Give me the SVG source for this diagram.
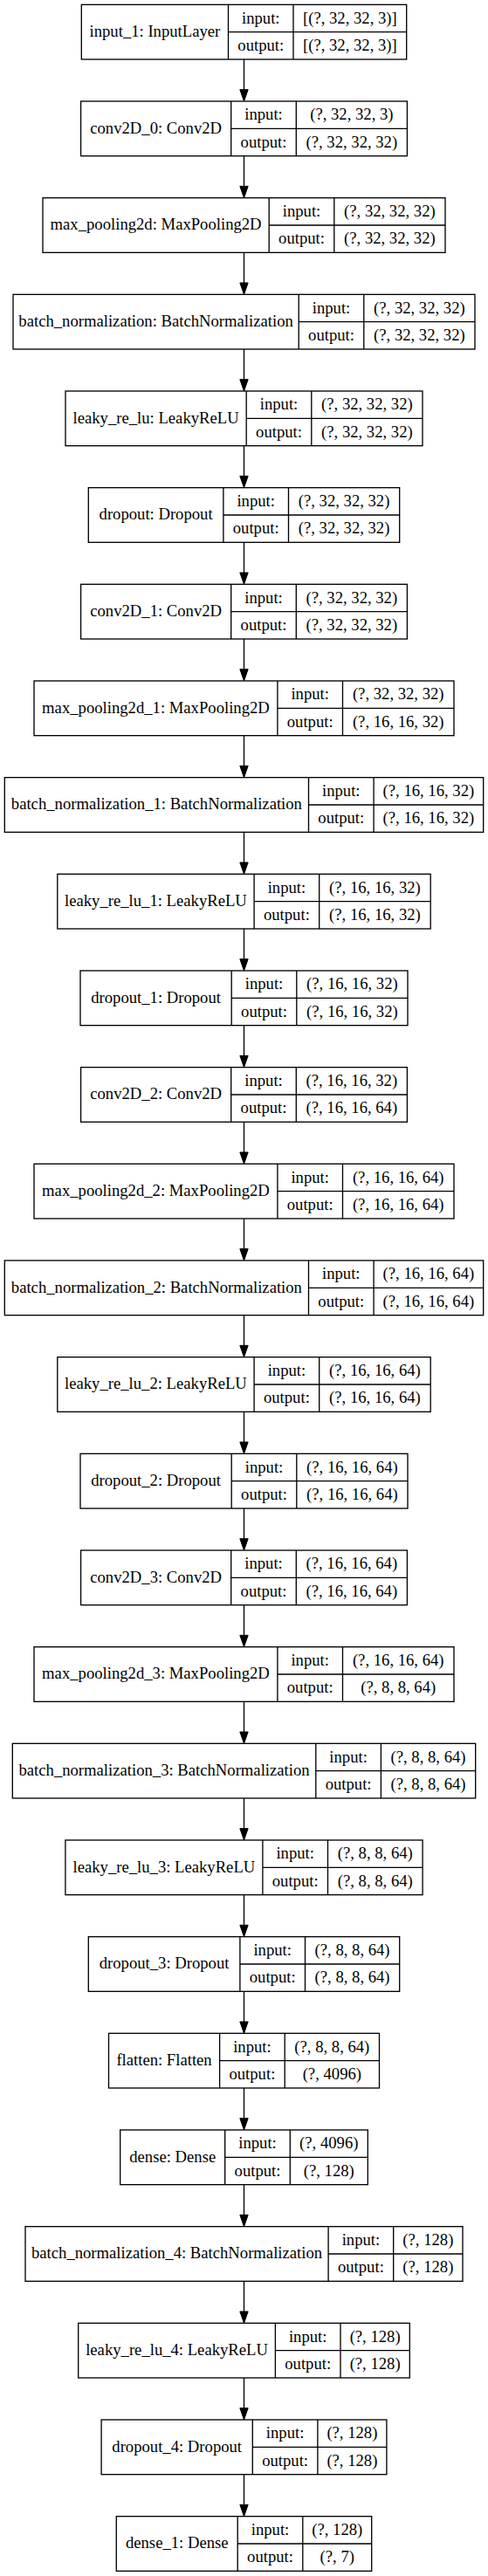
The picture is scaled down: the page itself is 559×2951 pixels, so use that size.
<svg xmlns="http://www.w3.org/2000/svg" width="559" height="2951" viewBox="0 0 559 2951">
<style>
.b{fill:none;stroke:#000;stroke-width:1.33}
.e{fill:none;stroke:#000;stroke-width:1.33}
text{font-family:"Liberation Serif","Times New Roman",serif;font-size:18.67px;fill:#000;text-anchor:middle}
</style>
<defs>
<marker id="ah" markerUnits="userSpaceOnUse" markerWidth="14" markerHeight="10" refX="0" refY="5" orient="auto" overflow="visible">
<path d="M0,0.33 L13.33,5 L0,9.67 Z" fill="#000" stroke="#000" stroke-width="1"/>
</marker>
</defs>
<rect x="0" y="0" width="559" height="2951" fill="#fff"/>
<g id="edges" class="e" marker-end="url(#ah)">
<path d="M279.5,68V102.67"/>
<path d="M279.5,178.67V213.33"/>
<path d="M279.5,289.33V324"/>
<path d="M279.5,400V434.67"/>
<path d="M279.5,510.67V545.33"/>
<path d="M279.5,621.33V656"/>
<path d="M279.5,732V766.67"/>
<path d="M279.5,842.67V877.33"/>
<path d="M279.5,953.33V988"/>
<path d="M279.5,1064V1098.67"/>
<path d="M279.5,1174.67V1209.33"/>
<path d="M279.5,1285.33V1320"/>
<path d="M279.5,1396V1430.67"/>
<path d="M279.5,1506.67V1541.33"/>
<path d="M279.5,1617.33V1652"/>
<path d="M279.5,1728V1762.67"/>
<path d="M279.5,1838.67V1873.33"/>
<path d="M279.5,1949.33V1984"/>
<path d="M279.5,2060V2094.67"/>
<path d="M279.5,2170.67V2205.33"/>
<path d="M279.5,2281.33V2316"/>
<path d="M279.5,2392V2426.67"/>
<path d="M279.5,2502.67V2537.33"/>
<path d="M279.5,2613.33V2648"/>
<path d="M279.5,2724V2758.67"/>
<path d="M279.5,2834.67V2869.33"/>
</g>

<g id="input_1" transform="translate(0,5.33)">
<rect class="b" x="93.3" y="0" width="372.4" height="62.67"/>
<path class="b" d="M261.5,0V62.67M336,0V62.67M261.5,31.33H465.7"/>
<text x="177.4" y="36.8">input_1: InputLayer</text>
<text x="298.75" y="21.2">input:</text><text x="298.75" y="52.5">output:</text>
<text x="400.85" y="21.2">[(?, 32, 32, 3)]</text><text x="400.85" y="52.5">[(?, 32, 32, 3)]</text>
</g>

<g id="conv2D_0" transform="translate(0,116)">
<rect class="b" x="92.6" y="0" width="373.8" height="62.67"/>
<path class="b" d="M264.7,0V62.67M339.3,0V62.67M264.7,31.33H466.4"/>
<text x="178.65" y="36.8">conv2D_0: Conv2D</text>
<text x="302" y="21.2">input:</text><text x="302" y="52.5">output:</text>
<text x="402.85" y="21.2">(?, 32, 32, 3)</text><text x="402.85" y="52.5">(?, 32, 32, 32)</text>
</g>

<g id="max_pooling2d" transform="translate(0,226.67)">
<rect class="b" x="49" y="0" width="461" height="62.67"/>
<path class="b" d="M308.2,0V62.67M382.8,0V62.67M308.2,31.33H510"/>
<text x="178.6" y="36.8">max_pooling2d: MaxPooling2D</text>
<text x="345.5" y="21.2">input:</text><text x="345.5" y="52.5">output:</text>
<text x="446.4" y="21.2">(?, 32, 32, 32)</text><text x="446.4" y="52.5">(?, 32, 32, 32)</text>
</g>

<g id="batch_normalization" transform="translate(0,337.33)">
<rect class="b" x="15" y="0" width="529" height="62.67"/>
<path class="b" d="M342.2,0V62.67M416.8,0V62.67M342.2,31.33H544"/>
<text x="178.6" y="36.8">batch_normalization: BatchNormalization</text>
<text x="379.5" y="21.2">input:</text><text x="379.5" y="52.5">output:</text>
<text x="480.4" y="21.2">(?, 32, 32, 32)</text><text x="480.4" y="52.5">(?, 32, 32, 32)</text>
</g>

<g id="leaky_re_lu" transform="translate(0,448)">
<rect class="b" x="75" y="0" width="409" height="62.67"/>
<path class="b" d="M282.2,0V62.67M356.8,0V62.67M282.2,31.33H484"/>
<text x="178.6" y="36.8">leaky_re_lu: LeakyReLU</text>
<text x="319.5" y="21.2">input:</text><text x="319.5" y="52.5">output:</text>
<text x="420.4" y="21.2">(?, 32, 32, 32)</text><text x="420.4" y="52.5">(?, 32, 32, 32)</text>
</g>

<g id="dropout" transform="translate(0,558.67)">
<rect class="b" x="101.3" y="0" width="356.4" height="62.67"/>
<path class="b" d="M255.9,0V62.67M330.5,0V62.67M255.9,31.33H457.7"/>
<text x="178.6" y="36.8">dropout: Dropout</text>
<text x="293.2" y="21.2">input:</text><text x="293.2" y="52.5">output:</text>
<text x="394.1" y="21.2">(?, 32, 32, 32)</text><text x="394.1" y="52.5">(?, 32, 32, 32)</text>
</g>

<g id="conv2D_1" transform="translate(0,669.33)">
<rect class="b" x="92.6" y="0" width="373.8" height="62.67"/>
<path class="b" d="M264.7,0V62.67M339.3,0V62.67M264.7,31.33H466.4"/>
<text x="178.65" y="36.8">conv2D_1: Conv2D</text>
<text x="302" y="21.2">input:</text><text x="302" y="52.5">output:</text>
<text x="402.85" y="21.2">(?, 32, 32, 32)</text><text x="402.85" y="52.5">(?, 32, 32, 32)</text>
</g>

<g id="max_pooling2d_1" transform="translate(0,780)">
<rect class="b" x="39" y="0" width="481" height="62.67"/>
<path class="b" d="M317.9,0V62.67M392.5,0V62.67M317.9,31.33H520"/>
<text x="178.45" y="36.8">max_pooling2d_1: MaxPooling2D</text>
<text x="355.2" y="21.2">input:</text><text x="355.2" y="52.5">output:</text>
<text x="456.25" y="21.2">(?, 32, 32, 32)</text><text x="456.25" y="52.5">(?, 16, 16, 32)</text>
</g>

<g id="batch_normalization_1" transform="translate(0,890.67)">
<rect class="b" x="5.3" y="0" width="548.4" height="62.67"/>
<path class="b" d="M353.5,0V62.67M428.1,0V62.67M353.5,31.33H553.7"/>
<text x="179.4" y="36.8">batch_normalization_1: BatchNormalization</text>
<text x="390.8" y="21.2">input:</text><text x="390.8" y="52.5">output:</text>
<text x="490.9" y="21.2">(?, 16, 16, 32)</text><text x="490.9" y="52.5">(?, 16, 16, 32)</text>
</g>

<g id="leaky_re_lu_1" transform="translate(0,1001.33)">
<rect class="b" x="65.8" y="0" width="427.4" height="62.67"/>
<path class="b" d="M291.1,0V62.67M365.7,0V62.67M291.1,31.33H493.2"/>
<text x="178.45" y="36.8">leaky_re_lu_1: LeakyReLU</text>
<text x="328.4" y="21.2">input:</text><text x="328.4" y="52.5">output:</text>
<text x="429.45" y="21.2">(?, 16, 16, 32)</text><text x="429.45" y="52.5">(?, 16, 16, 32)</text>
</g>

<g id="dropout_1" transform="translate(0,1112)">
<rect class="b" x="92" y="0" width="375" height="62.67"/>
<path class="b" d="M265.2,0V62.67M339.8,0V62.67M265.2,31.33H467"/>
<text x="178.6" y="36.8">dropout_1: Dropout</text>
<text x="302.5" y="21.2">input:</text><text x="302.5" y="52.5">output:</text>
<text x="403.4" y="21.2">(?, 16, 16, 32)</text><text x="403.4" y="52.5">(?, 16, 16, 32)</text>
</g>

<g id="conv2D_2" transform="translate(0,1222.67)">
<rect class="b" x="92.6" y="0" width="373.8" height="62.67"/>
<path class="b" d="M264.7,0V62.67M339.3,0V62.67M264.7,31.33H466.4"/>
<text x="178.65" y="36.8">conv2D_2: Conv2D</text>
<text x="302" y="21.2">input:</text><text x="302" y="52.5">output:</text>
<text x="402.85" y="21.2">(?, 16, 16, 32)</text><text x="402.85" y="52.5">(?, 16, 16, 64)</text>
</g>

<g id="max_pooling2d_2" transform="translate(0,1333.33)">
<rect class="b" x="39" y="0" width="481" height="62.67"/>
<path class="b" d="M317.9,0V62.67M392.5,0V62.67M317.9,31.33H520"/>
<text x="178.45" y="36.8">max_pooling2d_2: MaxPooling2D</text>
<text x="355.2" y="21.2">input:</text><text x="355.2" y="52.5">output:</text>
<text x="456.25" y="21.2">(?, 16, 16, 64)</text><text x="456.25" y="52.5">(?, 16, 16, 64)</text>
</g>

<g id="batch_normalization_2" transform="translate(0,1444)">
<rect class="b" x="5.3" y="0" width="548.4" height="62.67"/>
<path class="b" d="M353.5,0V62.67M428.1,0V62.67M353.5,31.33H553.7"/>
<text x="179.4" y="36.8">batch_normalization_2: BatchNormalization</text>
<text x="390.8" y="21.2">input:</text><text x="390.8" y="52.5">output:</text>
<text x="490.9" y="21.2">(?, 16, 16, 64)</text><text x="490.9" y="52.5">(?, 16, 16, 64)</text>
</g>

<g id="leaky_re_lu_2" transform="translate(0,1554.67)">
<rect class="b" x="65.8" y="0" width="427.4" height="62.67"/>
<path class="b" d="M291.1,0V62.67M365.7,0V62.67M291.1,31.33H493.2"/>
<text x="178.45" y="36.8">leaky_re_lu_2: LeakyReLU</text>
<text x="328.4" y="21.2">input:</text><text x="328.4" y="52.5">output:</text>
<text x="429.45" y="21.2">(?, 16, 16, 64)</text><text x="429.45" y="52.5">(?, 16, 16, 64)</text>
</g>

<g id="dropout_2" transform="translate(0,1665.33)">
<rect class="b" x="92" y="0" width="375" height="62.67"/>
<path class="b" d="M265.2,0V62.67M339.8,0V62.67M265.2,31.33H467"/>
<text x="178.6" y="36.8">dropout_2: Dropout</text>
<text x="302.5" y="21.2">input:</text><text x="302.5" y="52.5">output:</text>
<text x="403.4" y="21.2">(?, 16, 16, 64)</text><text x="403.4" y="52.5">(?, 16, 16, 64)</text>
</g>

<g id="conv2D_3" transform="translate(0,1776)">
<rect class="b" x="92.6" y="0" width="373.8" height="62.67"/>
<path class="b" d="M264.7,0V62.67M339.3,0V62.67M264.7,31.33H466.4"/>
<text x="178.65" y="36.8">conv2D_3: Conv2D</text>
<text x="302" y="21.2">input:</text><text x="302" y="52.5">output:</text>
<text x="402.85" y="21.2">(?, 16, 16, 64)</text><text x="402.85" y="52.5">(?, 16, 16, 64)</text>
</g>

<g id="max_pooling2d_3" transform="translate(0,1886.67)">
<rect class="b" x="39" y="0" width="481" height="62.67"/>
<path class="b" d="M317.9,0V62.67M392.5,0V62.67M317.9,31.33H520"/>
<text x="178.45" y="36.8">max_pooling2d_3: MaxPooling2D</text>
<text x="355.2" y="21.2">input:</text><text x="355.2" y="52.5">output:</text>
<text x="456.25" y="21.2">(?, 16, 16, 64)</text><text x="456.25" y="52.5">(?, 8, 8, 64)</text>
</g>

<g id="batch_normalization_3" transform="translate(0,1997.33)">
<rect class="b" x="14.3" y="0" width="530.4" height="62.67"/>
<path class="b" d="M361.8,0V62.67M436.4,0V62.67M361.8,31.33H544.7"/>
<text x="188.05" y="36.8">batch_normalization_3: BatchNormalization</text>
<text x="399.1" y="21.2">input:</text><text x="399.1" y="52.5">output:</text>
<text x="490.55" y="21.2">(?, 8, 8, 64)</text><text x="490.55" y="52.5">(?, 8, 8, 64)</text>
</g>

<g id="leaky_re_lu_3" transform="translate(0,2108)">
<rect class="b" x="74.9" y="0" width="409.2" height="62.67"/>
<path class="b" d="M300.9,0V62.67M375.5,0V62.67M300.9,31.33H484.1"/>
<text x="187.9" y="36.8">leaky_re_lu_3: LeakyReLU</text>
<text x="338.2" y="21.2">input:</text><text x="338.2" y="52.5">output:</text>
<text x="429.8" y="21.2">(?, 8, 8, 64)</text><text x="429.8" y="52.5">(?, 8, 8, 64)</text>
</g>

<g id="dropout_3" transform="translate(0,2218.67)">
<rect class="b" x="101.3" y="0" width="356.4" height="62.67"/>
<path class="b" d="M274.9,0V62.67M349.5,0V62.67M274.9,31.33H457.7"/>
<text x="188.1" y="36.8">dropout_3: Dropout</text>
<text x="312.2" y="21.2">input:</text><text x="312.2" y="52.5">output:</text>
<text x="403.6" y="21.2">(?, 8, 8, 64)</text><text x="403.6" y="52.5">(?, 8, 8, 64)</text>
</g>

<g id="flatten" transform="translate(0,2329.33)">
<rect class="b" x="124.5" y="0" width="310" height="62.67"/>
<path class="b" d="M251.6,0V62.67M326.2,0V62.67M251.6,31.33H434.5"/>
<text x="188.05" y="36.8">flatten: Flatten</text>
<text x="288.9" y="21.2">input:</text><text x="288.9" y="52.5">output:</text>
<text x="380.35" y="21.2">(?, 8, 8, 64)</text><text x="380.35" y="52.5">(?, 4096)</text>
</g>

<g id="dense" transform="translate(0,2440)">
<rect class="b" x="137.7" y="0" width="283.6" height="62.67"/>
<path class="b" d="M257.7,0V62.67M332.3,0V62.67M257.7,31.33H421.3"/>
<text x="197.7" y="36.8">dense: Dense</text>
<text x="295" y="21.2">input:</text><text x="295" y="52.5">output:</text>
<text x="376.8" y="21.2">(?, 4096)</text><text x="376.8" y="52.5">(?, 128)</text>
</g>

<g id="batch_normalization_4" transform="translate(0,2550.67)">
<rect class="b" x="29" y="0" width="501" height="62.67"/>
<path class="b" d="M376.1,0V62.67M450.7,0V62.67M376.1,31.33H530"/>
<text x="202.55" y="36.8">batch_normalization_4: BatchNormalization</text>
<text x="413.4" y="21.2">input:</text><text x="413.4" y="52.5">output:</text>
<text x="490.35" y="21.2">(?, 128)</text><text x="490.35" y="52.5">(?, 128)</text>
</g>

<g id="leaky_re_lu_4" transform="translate(0,2661.33)">
<rect class="b" x="89.7" y="0" width="379.6" height="62.67"/>
<path class="b" d="M315.4,0V62.67M390,0V62.67M315.4,31.33H469.3"/>
<text x="202.55" y="36.8">leaky_re_lu_4: LeakyReLU</text>
<text x="352.7" y="21.2">input:</text><text x="352.7" y="52.5">output:</text>
<text x="429.65" y="21.2">(?, 128)</text><text x="429.65" y="52.5">(?, 128)</text>
</g>

<g id="dropout_4" transform="translate(0,2772)">
<rect class="b" x="116.1" y="0" width="326.8" height="62.67"/>
<path class="b" d="M289.3,0V62.67M363.9,0V62.67M289.3,31.33H442.9"/>
<text x="202.7" y="36.8">dropout_4: Dropout</text>
<text x="326.6" y="21.2">input:</text><text x="326.6" y="52.5">output:</text>
<text x="403.4" y="21.2">(?, 128)</text><text x="403.4" y="52.5">(?, 128)</text>
</g>

<g id="dense_1" transform="translate(0,2882.67)">
<rect class="b" x="133.3" y="0" width="292.4" height="62.67"/>
<path class="b" d="M272.2,0V62.67M346.8,0V62.67M272.2,31.33H425.7"/>
<text x="202.75" y="36.8">dense_1: Dense</text>
<text x="309.5" y="21.2">input:</text><text x="309.5" y="52.5">output:</text>
<text x="386.25" y="21.2">(?, 128)</text><text x="386.25" y="52.5">(?, 7)</text>
</g>
</svg>
